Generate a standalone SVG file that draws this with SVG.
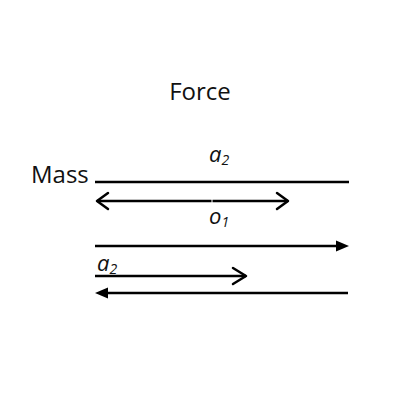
<svg xmlns="http://www.w3.org/2000/svg" width="400" height="400" viewBox="0 0 400 400">
<style>
.t{font-family:"Open Sans","Noto Sans",sans-serif;fill:#111}
.i{font-family:"Open Sans","Noto Sans",sans-serif;fill:#111;font-style:italic;font-size:22px}
.s{font-size:14px}
.l{stroke:#000;stroke-width:2.5;fill:none}
.c{stroke:#000;stroke-width:2.5;fill:none;stroke-linecap:round;stroke-linejoin:round}
.h{fill:#000}
</style>
<rect width="400" height="400" fill="#fff"/>
<g id="force"><text class="t" x="200" y="100" font-size="24" text-anchor="middle">Force</text></g>
<g id="mass"><text class="t" x="31" y="183" font-size="24">Mass</text></g>
<g id="label-a2-top"><text class="i" x="209" y="162">a<tspan class="s" dy="3">2</tspan></text></g>
<g id="label-o1"><text class="i" x="209" y="224">o<tspan class="s" dy="3">1</tspan></text></g>
<g id="label-a2-bottom"><text class="i" x="97" y="271">a<tspan class="s" dy="3">2</tspan></text></g>
<g id="connectors">
<line class="l" x1="95" y1="182" x2="349" y2="182"/>
<line class="l" x1="97" y1="201" x2="211.5" y2="201"/>
<line class="l" x1="212.5" y1="201" x2="288" y2="201"/>
<polyline class="c" points="108,193 97,201 108,209"/>
<polyline class="c" points="277,193 288,201 277,209"/>
<line class="l" x1="95" y1="246" x2="340" y2="246"/>
<path class="h" d="M336,240.5 L349,246 L336,251.5 z"/>
<line class="l" x1="95" y1="276" x2="246" y2="276"/>
<polyline class="c" points="233,268 246,276 233,284"/>
<line class="l" x1="104" y1="293" x2="348" y2="293"/>
<path class="h" d="M108,287.5 L95,293 L108,298.5 z"/>
</g>
</svg>
